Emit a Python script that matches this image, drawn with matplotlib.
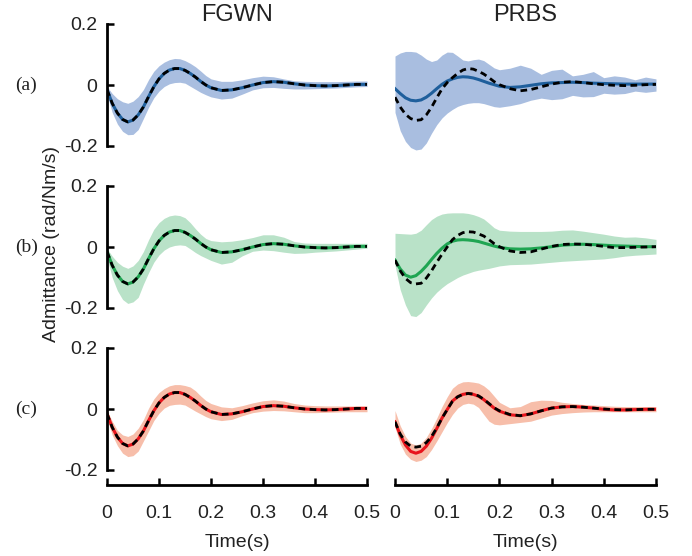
import matplotlib
matplotlib.use('Agg')
import matplotlib.pyplot as plt
import numpy as np

# --------------------------------------------------------------------------------------
# Data

t = [0.00, 0.01, 0.02, 0.03, 0.04, 0.05, 0.06, 0.07, 0.08, 0.09, 0.10, 0.11, 0.12,
     0.13, 0.14, 0.15, 0.16, 0.17, 0.18, 0.19, 0.20, 0.22, 0.24, 0.26, 0.28, 0.30,
     0.32, 0.34, 0.36, 0.38, 0.40, 0.42, 0.44, 0.46, 0.48, 0.50]

# FGWN: estimate and true response overlap
fgwn_true = [-0.015, -0.060, -0.092, -0.113, -0.121, -0.115, -0.098, -0.072, -0.038, -0.006,
             0.020, 0.038, 0.049, 0.054, 0.054, 0.048, 0.038, 0.026, 0.012, 0.000, -0.009,
             -0.018, -0.016, -0.009, 0.000, 0.008, 0.011, 0.009, 0.004, 0.000, -0.002,
             -0.003, -0.002, 0.000, 0.002, 0.002]

fgwn_a_hi = [-0.005, -0.028, -0.045, -0.055, -0.060, -0.053, -0.038, -0.015, 0.018, 0.045,
             0.063, 0.075, 0.083, 0.087, 0.086, 0.080, 0.071, 0.060, 0.046, 0.031, 0.020,
             0.012, 0.012, 0.017, 0.024, 0.029, 0.027, 0.020, 0.014, 0.012, 0.011, 0.011,
             0.011, 0.012, 0.013, 0.013]
fgwn_a_lo = [-0.030, -0.090, -0.128, -0.152, -0.163, -0.162, -0.146, -0.110, -0.073, -0.042,
             -0.020, -0.005, 0.004, 0.008, 0.009, 0.006, -0.004, -0.014, -0.024, -0.032,
             -0.039, -0.046, -0.043, -0.030, -0.016, -0.009, -0.008, -0.011, -0.013, -0.013,
             -0.012, -0.011, -0.010, -0.008, -0.006, -0.005]

fgwn_b_hi = [-0.005, -0.030, -0.050, -0.063, -0.070, -0.062, -0.044, -0.015, 0.024, 0.058,
             0.080, 0.094, 0.102, 0.105, 0.103, 0.096, 0.080, 0.060, 0.042, 0.028, 0.021,
             0.017, 0.019, 0.024, 0.031, 0.040, 0.040, 0.032, 0.018, 0.013, 0.012, 0.012,
             0.012, 0.012, 0.012, 0.012]
fgwn_b_lo = [-0.035, -0.100, -0.143, -0.172, -0.185, -0.180, -0.165, -0.122, -0.084, -0.050,
             -0.026, -0.010, 0.000, 0.005, 0.007, 0.005, -0.006, -0.018, -0.028, -0.036,
             -0.044, -0.056, -0.050, -0.029, -0.014, -0.010, -0.012, -0.017, -0.021, -0.020,
             -0.017, -0.015, -0.013, -0.010, -0.007, -0.004]

fgwn_c_hi = [-0.005, -0.040, -0.070, -0.085, -0.090, -0.082, -0.063, -0.035, 0.003, 0.033,
             0.054, 0.067, 0.076, 0.080, 0.080, 0.077, 0.072, 0.060, 0.043, 0.028, 0.018,
             0.007, 0.004, 0.011, 0.020, 0.027, 0.030, 0.026, 0.018, 0.013, 0.011, 0.010,
             0.010, 0.010, 0.010, 0.010]
fgwn_c_lo = [-0.030, -0.085, -0.120, -0.145, -0.156, -0.153, -0.138, -0.105, -0.072, -0.038,
             -0.014, 0.003, 0.012, 0.015, 0.016, 0.013, 0.003, -0.007, -0.016, -0.025,
             -0.032, -0.038, -0.034, -0.022, -0.012, -0.007, -0.005, -0.006, -0.009, -0.012,
             -0.012, -0.011, -0.010, -0.009, -0.009, -0.009]

# PRBS
prbs_a_mean = [-0.012, -0.028, -0.042, -0.050, -0.052, -0.049, -0.040, -0.027, -0.012, 0.002,
               0.013, 0.020, 0.025, 0.027, 0.026, 0.023, 0.018, 0.012, 0.006, 0.001, -0.004,
               -0.008, -0.006, -0.001, 0.004, 0.007, 0.008, 0.009, 0.008, 0.006, 0.005,
               0.004, 0.003, 0.003, 0.003, 0.003]
prbs_a_true = [-0.040, -0.072, -0.096, -0.110, -0.116, -0.114, -0.098, -0.073, -0.042, -0.013,
               0.008, 0.024, 0.038, 0.049, 0.054, 0.052, 0.045, 0.036, 0.024, 0.011, 0.001,
               -0.012, -0.019, -0.015, -0.006, 0.003, 0.009, 0.011, 0.008, 0.004, 0.001,
               -0.001, -0.002, -0.001, 0.001, 0.002]
prbs_a_hi = [0.095, 0.105, 0.110, 0.110, 0.108, 0.098, 0.085, 0.077, 0.082, 0.098, 0.108,
             0.107, 0.095, 0.082, 0.079, 0.083, 0.085, 0.080, 0.068, 0.056, 0.050, 0.055,
             0.065, 0.055, 0.035, 0.048, 0.052, 0.030, 0.035, 0.044, 0.024, 0.030, 0.026,
             0.017, 0.026, 0.020]
prbs_a_lo = [-0.090, -0.150, -0.185, -0.205, -0.213, -0.210, -0.190, -0.158, -0.130, -0.108,
             -0.092, -0.080, -0.070, -0.064, -0.060, -0.058, -0.058, -0.061, -0.066, -0.071,
             -0.073, -0.068, -0.061, -0.050, -0.043, -0.048, -0.045, -0.034, -0.039, -0.038,
             -0.027, -0.030, -0.028, -0.020, -0.024, -0.020]

prbs_b_mean = [-0.043, -0.072, -0.092, -0.099, -0.094, -0.080, -0.062, -0.041, -0.021, -0.004,
               0.010, 0.019, 0.023, 0.024, 0.023, 0.021, 0.018, 0.013, 0.008, 0.003, -0.001,
               -0.006, -0.007, -0.006, -0.003, 0.001, 0.006, 0.008, 0.009, 0.008, 0.006,
               0.004, 0.003, 0.002, 0.001, 0.001]
prbs_b_true = [-0.043, -0.078, -0.103, -0.117, -0.121, -0.119, -0.102, -0.078, -0.050, -0.024,
               0.000, 0.024, 0.038, 0.047, 0.050, 0.049, 0.043, 0.036, 0.024, 0.011, 0.001,
               -0.013, -0.018, -0.016, -0.007, 0.002, 0.008, 0.010, 0.009, 0.006, 0.002,
               -0.002, -0.002, -0.001, 0.000, 0.001]
prbs_b_hi = [0.045, 0.044, 0.043, 0.042, 0.045, 0.055, 0.073, 0.090, 0.101, 0.108, 0.111,
             0.112, 0.112, 0.112, 0.110, 0.106, 0.100, 0.092, 0.078, 0.063, 0.055, 0.052,
             0.051, 0.051, 0.051, 0.052, 0.055, 0.056, 0.052, 0.047, 0.042, 0.036, 0.032,
             0.033, 0.030, 0.025]
prbs_b_lo = [-0.060, -0.140, -0.190, -0.225, -0.228, -0.215, -0.190, -0.167, -0.148, -0.133,
             -0.120, -0.110, -0.100, -0.092, -0.086, -0.080, -0.076, -0.073, -0.070, -0.066,
             -0.062, -0.058, -0.057, -0.056, -0.053, -0.050, -0.047, -0.045, -0.043, -0.041,
             -0.039, -0.035, -0.030, -0.027, -0.025, -0.023]

prbs_c_mean = [-0.042, -0.085, -0.118, -0.139, -0.145, -0.139, -0.122, -0.096, -0.064, -0.030,
               -0.002, 0.026, 0.040, 0.048, 0.051, 0.048, 0.042, 0.031, 0.017, 0.003, -0.007,
               -0.019, -0.022, -0.016, -0.006, 0.003, 0.007, 0.008, 0.006, 0.003, -0.001,
               -0.003, -0.003, -0.002, -0.001, -0.001]
prbs_c_true = [-0.042, -0.082, -0.108, -0.122, -0.125, -0.122, -0.110, -0.090, -0.062, -0.030,
               -0.002, 0.025, 0.040, 0.048, 0.051, 0.049, 0.043, 0.032, 0.018, 0.004, -0.006,
               -0.018, -0.022, -0.016, -0.006, 0.003, 0.007, 0.008, 0.006, 0.003, 0.000,
               -0.002, -0.003, -0.002, -0.001, -0.001]
prbs_c_hi = [-0.005, -0.055, -0.090, -0.112, -0.118, -0.112, -0.093, -0.064, -0.030, 0.008,
             0.040, 0.068, 0.082, 0.089, 0.090, 0.088, 0.085, 0.076, 0.062, 0.042, 0.022,
             0.004, 0.008, 0.024, 0.029, 0.028, 0.022, 0.018, 0.015, 0.013, 0.011, 0.009,
             0.008, 0.008, 0.008, 0.008]
prbs_c_lo = [-0.060, -0.115, -0.148, -0.165, -0.172, -0.168, -0.156, -0.133, -0.105, -0.075,
             -0.045, -0.018, 0.003, 0.015, 0.019, 0.016, 0.005, -0.018, -0.040, -0.050,
             -0.052, -0.048, -0.044, -0.040, -0.030, -0.020, -0.015, -0.012, -0.010, -0.009,
             -0.009, -0.009, -0.009, -0.009, -0.009, -0.009]

row_labels = ['(a)', '(b)', '(c)']
col_titles = ['FGWN', 'PRBS']
line_colors = ['#1f5f9c', '#1fa552', '#e8141c']
fill_colors = ['#a9bee0', '#b9e2c8', '#f7beaa']

panels = [
    [(fgwn_true, fgwn_true, fgwn_a_lo, fgwn_a_hi), (prbs_a_mean, prbs_a_true, prbs_a_lo, prbs_a_hi)],
    [(fgwn_true, fgwn_true, fgwn_b_lo, fgwn_b_hi), (prbs_b_mean, prbs_b_true, prbs_b_lo, prbs_b_hi)],
    [(fgwn_true, fgwn_true, fgwn_c_lo, fgwn_c_hi), (prbs_c_mean, prbs_c_true, prbs_c_lo, prbs_c_hi)],
]

# --------------------------------------------------------------------------------------
# Create chart

plt.rcParams['font.family'] = 'Liberation Sans'
plt.rcParams['axes.unicode_minus'] = False
txtcol = '#222222'

W, H = 692, 556
fig = plt.figure(figsize=(W / 100, H / 100), dpi=100)

col_left = [107, 395]
col_width = [260, 261]
row_zero = [85, 247, 409]
px_per_unit = 305.0
ylim = 0.25

for r in range(3):
    for c in range(2):
        mean, true, lo, hi = panels[r][c]
        top = row_zero[r] - ylim * px_per_unit
        h = 2 * ylim * px_per_unit
        ax = fig.add_axes([col_left[c] / W, 1 - (top + h) / H, col_width[c] / W, h / H])

        ax.fill_between(t, lo, hi, color=fill_colors[r], lw=0)
        ax.plot(t, mean, color=line_colors[r], lw=2.2)
        ax.plot(t, true, color='black', lw=2.0, linestyle=(0, (2.4, 1.6)))

        ax.set_xlim(0, 0.5)
        ax.set_ylim(-ylim, ylim)
        ax.patch.set_visible(False)

        for s in ['top', 'right']:
            ax.spines[s].set_visible(False)

        # y axis only on the left column
        if c == 0:
            ax.spines['left'].set_bounds(-0.2, 0.2)
            ax.spines['left'].set_linewidth(2.0)
            ax.set_yticks([-0.2, 0, 0.2])
            ax.set_yticklabels(['-0.2', '0', '0.2'])
            ax.tick_params(axis='y', direction='in', length=5, width=1.8,
                           labelsize=14, labelcolor=txtcol, pad=7)
            ax.text(-0.31, 0, row_labels[r], transform=ax.get_yaxis_transform(),
                    ha='center', va='center', fontsize=14, family='Liberation Serif',
                    color=txtcol)
        else:
            ax.spines['left'].set_visible(False)
            ax.set_yticks([])

        # x axis only on the bottom row
        if r == 2:
            ax.spines['bottom'].set_bounds(0, 0.5)
            ax.spines['bottom'].set_linewidth(2.0)
            ax.set_xticks(np.arange(0, 0.51, 0.1))
            ax.set_xticklabels(['0', '0.1', '0.2', '0.3', '0.4', '0.5'])
            ax.tick_params(axis='x', direction='in', length=5, width=1.8,
                           labelsize=14, labelcolor=txtcol, pad=14)
            ax.set_xlabel('Time(s)', fontsize=14, color=txtcol, labelpad=9)
        else:
            ax.spines['bottom'].set_visible(False)
            ax.set_xticks([])

        if r == 0:
            fig.text((col_left[c] + col_width[c] / 2) / W, 1 - 15 / H, col_titles[c],
                     ha='center', va='center', fontsize=17, color=txtcol)

fig.text(52 / W, 1 - 244 / H, 'Admittance (rad/Nm/s)', rotation=90,
         ha='center', va='center', fontsize=14, color=txtcol)

plt.savefig('out.png', dpi=100)
